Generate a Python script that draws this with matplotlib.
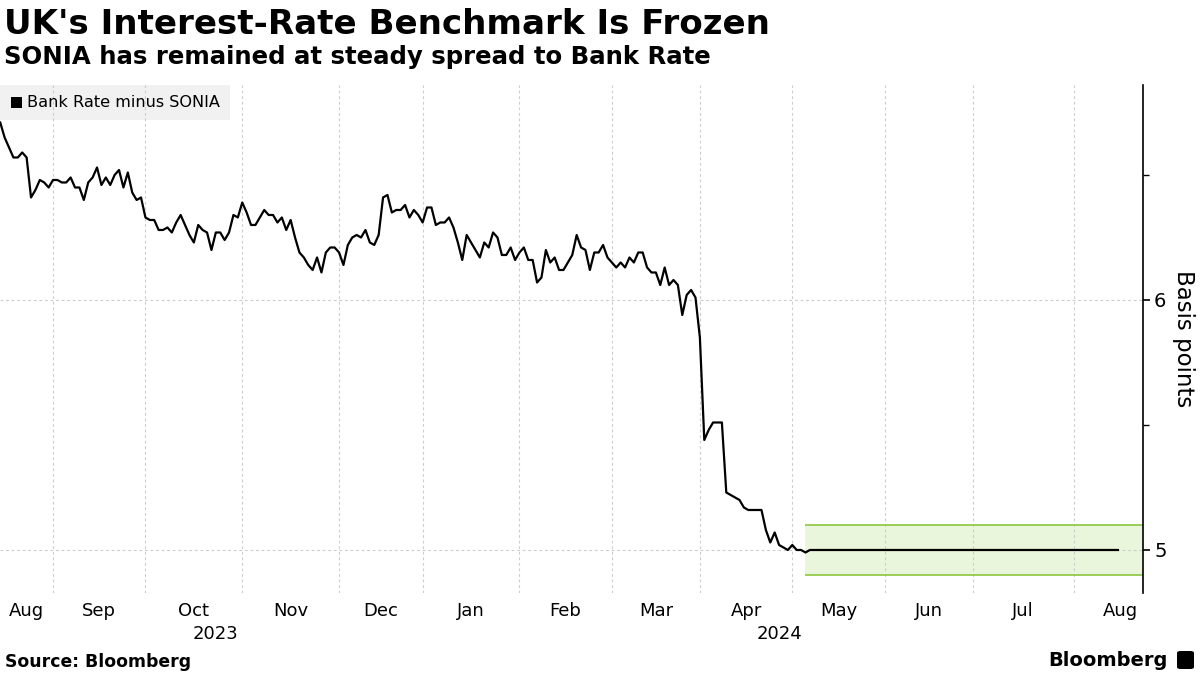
import matplotlib
matplotlib.use("Agg")
import matplotlib.pyplot as plt
import numpy as np
import pandas as pd
from matplotlib.patches import Rectangle, FancyBboxPatch
import matplotlib.transforms as mtransforms

# ---------------- data ----------------
title = "UK's Interest-Rate Benchmark Is Frozen"
subtitle = "SONIA has remained at steady spread to Bank Rate"
series_name = "Bank Rate minus SONIA"
y_label = "Basis points"
source_text = "Source: Bloomberg"
brand_text = "Bloomberg"

# the x axis is a UK business-day axis (non-trading days are skipped)
start_date = "2023-08-15"
calendar_end = "2024-08-30"
uk_holidays = ["2023-08-28", "2023-12-25", "2023-12-26", "2024-01-01",
               "2024-03-29", "2024-04-01", "2024-05-06", "2024-05-27",
               "2024-08-26"]

# one value per UK business day, starting at start_date
spread_values = [
    6.71, 6.65, 6.61, 6.57, 6.57, 6.59, 6.57, 6.41, 6.44, 6.48,
    6.47, 6.45, 6.48, 6.48, 6.47, 6.47, 6.49, 6.45, 6.45, 6.40,
    6.47, 6.49, 6.53, 6.46, 6.49, 6.46, 6.50, 6.52, 6.45, 6.51,
    6.43, 6.40, 6.41, 6.33, 6.32, 6.32, 6.28, 6.28, 6.29, 6.27,
    6.31, 6.34, 6.30, 6.26, 6.23, 6.30, 6.28, 6.27, 6.20, 6.27,
    6.27, 6.24, 6.27, 6.34, 6.33, 6.39, 6.35, 6.30, 6.30, 6.33,
    6.36, 6.34, 6.34, 6.31, 6.33, 6.28, 6.32, 6.25, 6.19, 6.17,
    6.14, 6.12, 6.17, 6.11, 6.19, 6.21, 6.21, 6.19, 6.14, 6.22,
    6.25, 6.26, 6.25, 6.28, 6.23, 6.22, 6.26, 6.41, 6.42, 6.35,
    6.36, 6.36, 6.38, 6.33, 6.36, 6.34, 6.31, 6.37, 6.37, 6.30,
    6.31, 6.31, 6.33, 6.29, 6.23, 6.16, 6.26, 6.23, 6.20, 6.17,
    6.23, 6.21, 6.27, 6.25, 6.18, 6.18, 6.21, 6.16, 6.19, 6.21,
    6.16, 6.16, 6.07, 6.09, 6.20, 6.15, 6.17, 6.12, 6.12, 6.15,
    6.18, 6.26, 6.21, 6.20, 6.12, 6.19, 6.19, 6.22, 6.17, 6.15,
    6.13, 6.15, 6.13, 6.17, 6.15, 6.19, 6.19, 6.13, 6.11, 6.11,
    6.06, 6.13, 6.06, 6.08, 6.06, 5.94, 6.02, 6.04, 6.01, 5.85,
    5.44, 5.48, 5.51, 5.51, 5.51, 5.23, 5.22, 5.21, 5.20, 5.17,
    5.16, 5.16, 5.16, 5.16, 5.08, 5.03, 5.07, 5.02, 5.01, 5.00,
    5.02, 5.00, 5.00, 4.99, 5.00, 5.00, 5.00, 5.00, 5.00, 5.00,
    5.00, 5.00, 5.00, 5.00, 5.00, 5.00, 5.00, 5.00, 5.00, 5.00,
    5.00, 5.00, 5.00, 5.00, 5.00, 5.00, 5.00, 5.00, 5.00, 5.00,
    5.00, 5.00, 5.00, 5.00, 5.00, 5.00, 5.00, 5.00, 5.00, 5.00,
    5.00, 5.00, 5.00, 5.00, 5.00, 5.00, 5.00, 5.00, 5.00, 5.00,
    5.00, 5.00, 5.00, 5.00, 5.00, 5.00, 5.00, 5.00, 5.00, 5.00,
    5.00, 5.00, 5.00, 5.00, 5.00, 5.00, 5.00, 5.00, 5.00, 5.00,
    5.00, 5.00, 5.00, 5.00, 5.00,
]

month_names = ["Jan", "Feb", "Mar", "Apr", "May", "Jun",
               "Jul", "Aug", "Sep", "Oct", "Nov", "Dec"]
year_labels = ["2023", "2024"]
year_label_dates = ["2023-10-24", "2024-04-26"]

band_start_date = "2024-05-07"
band_low, band_high = 4.9, 5.1
y_major = [5, 6]
y_minor = [5.5, 6.5]
y_limits = (4.828, 6.86)
x_right_pos = 259.7   # right edge in business-day units

# ---------------- build calendar ----------------
days = pd.bdate_range(start_date, calendar_end)
days = days[~days.isin(pd.to_datetime(uk_holidays))]
x = np.arange(len(spread_values))
day_index = {d: i for i, d in enumerate(days)}

month_starts = []
prev = None
for i, d in enumerate(days):
    key = (d.year, d.month)
    if key != prev:
        month_starts.append((i, d))
        prev = key

x_left = -0.05
x_right = x_right_pos

# ---------------- figure ----------------
plt.rcParams['font.family'] = ['DejaVu Sans']
W, H = 1200, 675
fig = plt.figure(figsize=(12, 6.75), dpi=100)
ax_l, ax_b, ax_w, ax_h = 0.0, 0.1215, 0.9525, 0.7526
ax = fig.add_axes([ax_l, ax_b, ax_w, ax_h])
ax.set_xlim(x_left, x_right)
ax.set_ylim(*y_limits)
AXW, AXH = ax_w * W, ax_h * H

grid_col = "#cccccc"
for i, d in month_starts:
    if i > 0:
        ax.axvline(i, color=grid_col, lw=0.8, ls=(0, (2.5, 2.5)), zorder=1)
for v in y_major:
    ax.axhline(v, color=grid_col, lw=0.8, ls=(0, (2.5, 2.5)), zorder=1)

# highlighted band
band_x0 = day_index[pd.Timestamp(band_start_date)]
ax.fill_between([band_x0, x_right], band_low, band_high,
                color="#eaf6db", zorder=0.8, lw=0)
ax.hlines([band_low, band_high], band_x0, x_right, color="#8cc63f",
          lw=1.2, zorder=1.5)

# series line
ax.plot(x, spread_values, color="black", lw=1.6, zorder=3)

# spines and ticks
for s in ["left", "top", "bottom"]:
    ax.spines[s].set_visible(False)
ax.spines["right"].set_color("black")
ax.spines["right"].set_linewidth(1.2)
ax.yaxis.tick_right()
ax.set_yticks(y_major)
ax.set_yticklabels([str(v) for v in y_major])
ax.set_yticks(y_minor, minor=True)
ax.tick_params(axis="y", which="major", direction="out", length=5, width=1.2,
               labelsize=14, pad=3, colors="black")
ax.tick_params(axis="y", which="minor", direction="out", length=4, width=1.0)

fig.text(1184 / W, 1 - 339 / H, y_label, rotation=-90, ha="center",
         va="center", fontsize=16.5, color="black")

# month tick labels centred in each month
ax.set_xticks([])
trans = mtransforms.blended_transform_factory(ax.transData, ax.transAxes)
n_cal = len(days)
for k, (i, d) in enumerate(month_starts):
    nxt = month_starts[k + 1][0] if k + 1 < len(month_starts) else n_cal
    start = x_left if k == 0 else i
    centre = (start + nxt) / 2
    ax.text(centre, -0.017, month_names[d.month - 1], transform=trans,
            ha="center", va="top", fontsize=13, color="black")

for lab, dstr in zip(year_labels, year_label_dates):
    xi = day_index[pd.Timestamp(dstr)]
    ax.text(xi, -0.064, lab, transform=trans, ha="center", va="top",
            fontsize=13, color="black")

# legend box
ax.add_patch(Rectangle((0, 1 - 35 / AXH), 230 / AXW, 35 / AXH,
                       transform=ax.transAxes, facecolor="#f1f1f1",
                       edgecolor="none", zorder=0.5))
ax.add_patch(Rectangle((11 / AXW, 1 - 23 / AXH), 11 / AXW, 11 / AXH,
                       transform=ax.transAxes, facecolor="black",
                       edgecolor="none", zorder=4))
ax.text(27 / AXW, 1 - 17.5 / AXH, series_name, transform=ax.transAxes,
        ha="left", va="center", fontsize=11.6, color="black", zorder=4)

# titles
fig.text(0.003, 1 - 8 / H, title, ha="left", va="top", fontsize=24.6,
         fontweight="bold", color="black")
fig.text(0.003, 1 - 45 / H, subtitle, ha="left", va="top", fontsize=17.6,
         fontweight="bold", color="black")

# footer
fig.text(0.004, 1 - 662 / H, source_text, ha="left", va="center",
         fontsize=12.4, fontweight="bold", color="black")
fig.text(1168 / W, 1 - 660 / H, brand_text, ha="right", va="center",
         fontsize=14, fontweight="bold", color="black")
fig.patches.append(FancyBboxPatch((1177 / W, 1 - 669 / H), 17 / W, 18 / H,
                                  boxstyle="round,pad=0,rounding_size=0.003",
                                  transform=fig.transFigure,
                                  facecolor="black", edgecolor="none"))

fig.savefig("out.png", dpi=100, facecolor="white")
